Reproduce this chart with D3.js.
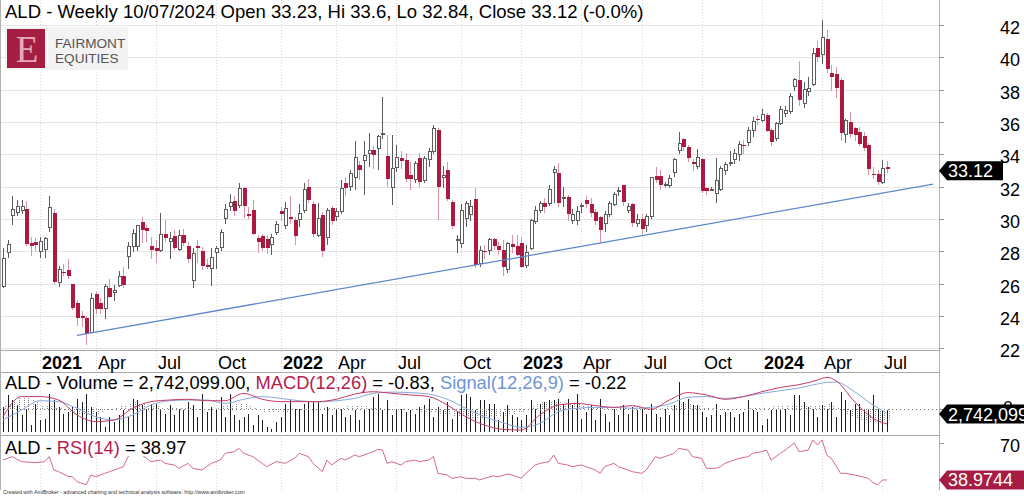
<!DOCTYPE html>
<html><head><meta charset="utf-8">
<script src="https://cdn.jsdelivr.net/npm/d3@7"></script>
<style>
html,body{margin:0;padding:0;background:#fff;}
svg{display:block;font-family:"Liberation Sans",Arial,sans-serif;}
</style></head><body>
<svg id="chart" width="1024" height="496"></svg>
<script>
// ---------------- DATA ----------------
const ticker = "ALD";
const lastDateLabel = "10/07/2024";
const changeLabel = "(-0.0%)";
const firstWeek = "2020-11-13"; // week ending date of the first weekly bar

const open = [25.8,27.9,30.2,30.4,30.5,30.6,28.5,28.55,27.96,28.1,
29.5,30.4,26.05,26.75,26.85,25.95,24.8,24.0,23.9,23.0,
25.35,24.8,24.45,25.75,25.45,25.9,26.45,27.7,28.27,28.3,
29.8,29.45,28.3,28.2,28.05,29.1,28.6,28.95,28.1,29.0,
28.3,26.2,28.3,28.05,27.15,26.93,27.9,28.25,30.0,30.8,
31.1,30.85,31.9,30.3,30.55,28.8,28.95,28.75,28.4,29.15,
30.5,29.6,30.1,29.95,29.95,30.55,31.95,30.95,28.95,30.25,
28.85,30.65,30.15,30.45,32.2,32.0,32.55,33.35,33.6,34.05,
34.25,34.35,35.2,33.9,31.95,33.2,33.8,33.65,32.7,32.45,
33.75,32.35,33.65,34.15,35.5,32.55,33.0,31.05,28.65,28.5,
30.05,30.25,31.25,27.25,28.05,28.05,28.75,28.35,28.1,26.85,
28.45,28.3,28.5,27.15,28.2,29.85,30.55,31.0,30.95,32.9,
32.85,31.3,31.35,29.9,29.9,30.8,31.15,30.95,30.45,30.1,
29.7,30.3,30.9,31.7,32.1,30.55,30.9,29.75,30.0,29.6,
30.15,32.65,32.65,32.1,32.1,32.85,34.25,34.95,34.45,33.55,
33.25,33.7,31.9,31.8,31.6,31.85,33.0,33.45,33.7,34.0,
34.6,34.75,35.45,36.2,36.1,36.45,35.5,34.95,35.9,36.55,
36.65,38.2,38.6,37.15,37.9,38.3,40.55,40.2,41.15,39.0,
38.95,38.6,35.25,36.0,35.6,35.35,35.15,34.6,32.8,32.8,
32.25,33.23];
const high = [28.2,28.7,31.4,31.2,31.2,31.1,28.9,28.8,28.9,28.9,
31.4,30.6,27.1,27.2,27.55,26.0,25.0,24.3,24.0,25.4,
25.5,25.1,25.95,26.3,25.9,26.8,27.0,28.6,29.35,29.65,
30.1,29.65,28.9,28.7,30.35,29.95,29.2,29.3,29.3,29.35,
28.6,28.2,28.7,28.25,27.5,28.2,28.35,29.4,30.9,31.55,
31.4,32.2,32.0,30.75,31.15,29.0,29.1,29.0,29.05,29.9,
30.75,31.05,31.45,30.15,30.9,32.2,32.5,31.1,31.0,30.45,
30.7,30.8,30.7,32.4,32.6,33.0,34.8,33.6,34.8,35.3,
34.5,35.2,37.55,35.2,35.2,34.6,34.2,34.1,33.5,33.6,
34.1,33.9,34.4,35.8,35.6,33.3,33.5,31.2,29.0,30.9,
31.1,31.2,31.9,28.3,28.4,28.8,28.85,28.6,28.7,28.6,
29.0,29.0,28.9,28.4,30.0,30.8,31.1,31.3,32.1,33.25,
33.45,32.0,31.5,30.6,30.8,31.0,31.45,31.3,30.6,30.2,
30.5,31.1,31.65,32.0,32.1,31.0,31.0,30.3,30.3,30.3,
32.6,33.2,33.0,32.3,32.7,33.8,35.4,35.0,34.6,33.7,
34.3,33.8,32.0,31.95,33.8,33.3,33.5,34.2,34.3,34.8,
34.9,35.7,36.3,36.45,36.8,36.55,35.6,36.0,37.0,37.0,
37.8,38.7,39.75,38.5,38.8,40.6,41.0,42.3,41.7,39.5,
39.4,38.7,36.2,36.6,35.7,35.7,35.4,34.7,33.2,33.0,
33.65,33.6];
const low = [25.75,27.6,29.6,30.2,30.3,28.3,27.7,28.0,27.6,27.6,
29.2,26.0,25.8,26.5,26.3,24.4,23.4,23.3,22.2,22.95,
24.1,24.1,23.8,25.1,24.9,25.8,25.7,26.9,27.95,28.0,
28.5,28.6,27.5,27.3,27.95,28.6,27.5,28.1,28.0,28.3,
27.3,25.7,27.3,26.85,26.9,25.85,26.9,28.0,29.7,30.5,
30.2,30.7,30.05,30.0,29.0,27.9,28.0,27.85,27.75,29.0,
29.9,29.4,29.7,28.4,29.5,30.4,31.0,28.9,28.9,27.65,
28.4,29.6,29.9,30.3,31.4,31.7,31.8,32.4,31.5,33.2,
33.1,33.05,34.95,32.0,30.85,32.9,33.1,32.3,31.8,32.2,
31.95,32.2,33.2,34.0,29.95,31.9,31.1,29.4,27.9,28.2,
29.5,29.9,26.95,27.0,27.5,27.8,28.1,27.8,26.5,26.65,
27.9,27.7,26.95,26.95,28.1,29.7,30.4,30.4,30.8,31.0,
30.75,30.75,29.9,29.7,29.6,30.4,30.7,30.1,29.6,28.5,
29.2,30.1,30.8,31.4,30.8,30.4,29.5,29.5,29.05,29.2,
30.0,32.2,31.8,31.95,31.9,32.6,34.0,34.2,33.5,32.95,
33.1,31.6,31.5,31.7,31.0,31.7,32.7,33.3,33.4,33.6,
34.0,34.5,35.1,35.8,36.0,35.4,34.5,34.8,35.8,36.3,
36.5,37.9,37.0,36.85,37.6,38.2,39.7,39.6,39.0,37.9,
37.5,34.8,34.7,35.0,34.8,34.5,34.2,32.7,32.5,32.1,
32.15,32.84];
const close = [27.55,28.4,30.6,30.8,30.8,28.45,28.3,28.4,28.6,28.8,
30.7,26.1,26.85,26.7,26.45,24.5,23.9,23.88,22.9,25.05,
24.45,24.45,25.85,25.2,25.6,26.45,25.9,28.3,29.1,29.6,
29.3,29.25,28.1,28.05,29.05,28.8,28.8,28.2,29.0,28.5,
27.5,27.85,28.2,27.1,27.05,27.6,28.15,29.15,30.6,31.05,
30.5,31.9,30.8,30.2,29.1,28.55,28.2,28.2,28.85,29.65,
30.3,30.65,30.0,28.95,30.35,31.8,31.2,29.1,30.0,28.05,
30.55,29.85,30.45,31.9,31.9,32.8,33.8,33.0,33.9,34.25,
33.95,35.1,35.3,32.45,33.15,33.8,33.6,32.45,32.5,33.45,
32.3,33.75,34.15,35.6,31.95,32.7,31.25,29.55,28.7,30.5,
30.95,30.75,27.15,28.05,27.95,28.75,28.3,28.1,27.05,28.5,
28.25,27.8,27.05,27.95,29.9,30.55,30.95,30.75,31.8,33.05,
31.0,31.35,30.3,30.25,30.45,30.85,30.95,30.35,29.9,29.3,
30.3,30.95,31.5,31.75,31.05,30.8,29.75,29.95,29.35,30.15,
32.55,32.4,32.1,32.15,32.5,33.7,34.65,34.45,33.75,33.4,
33.8,31.7,31.75,31.85,32.4,33.1,33.4,33.5,34.05,34.6,
34.5,35.5,36.05,36.1,36.45,35.45,34.75,35.9,36.75,36.7,
37.6,38.6,37.35,38.0,38.1,40.25,40.05,41.2,39.3,38.8,
38.1,35.3,36.1,35.25,35.2,34.65,34.4,33.1,32.75,32.3,
33.1,33.12];
// weekly volume in millions of shares
const volumeM = [3.13,4.58,3.96,3.33,2.08,2.92,0.83,3.54,1.46,1.67,
4.79,3.96,3.13,2.29,2.5,3.13,4.17,3.75,4.79,3.13,
2.5,1.88,0.63,1.88,1.25,2.08,2.71,1.88,4.17,3.96,
3.33,2.92,3.54,3.54,2.92,2.29,3.33,2.08,2.92,2.71,
3.75,3.33,1.88,4.79,2.5,3.13,2.92,4.38,1.88,4.79,
2.08,1.46,1.88,2.29,0.83,2.08,1.46,0.63,0.42,1.25,
1.88,3.54,3.96,2.92,2.92,3.54,3.75,3.75,3.75,2.29,
3.13,2.08,2.71,2.92,1.88,2.08,2.71,1.46,2.71,2.92,
4.38,4.79,2.71,3.96,2.08,2.92,2.92,2.5,2.71,2.29,
3.13,3.33,4.17,1.88,3.13,2.71,3.75,1.67,2.5,4.58,
4.79,4.38,2.71,3.96,3.96,3.54,3.54,1.46,
2.5,3.33,2.08,1.88,1.46,2.08,3.96,2.92,3.54,3.75,
3.96,3.96,4.17,3.54,4.17,3.33,4.79,1.67,2.5,3.33,
1.46,4.17,2.29,1.25,2.92,2.08,3.33,2.29,3.13,2.71,
2.92,2.29,3.54,2.29,1.88,2.92,2.08,3.33,6.25,3.75,
4.17,3.33,3.33,2.5,1.88,2.08,3.54,2.08,2.5,2.5,
1.88,2.29,2.5,3.96,2.71,2.5,0.83,1.67,2.71,2.71,
2.71,2.92,2.08,4.58,4.58,3.75,3.13,2.92,1.88,3.33,
2.92,3.75,1.88,5.0,3.96,2.71,3.54,3.54,2.92,2.92,
4.58,2.92,2.71,2.742099];
// MACD(12,26) and Signal(12,26,9) read at these bar numbers
const macdIdx = [0,4,8,12,16,20,24,28,32,36,40,44,48,52,56,60,64,68,72,76,80,84,88,92,96,100,104,108,112,116,120,124,128,132,136,140,144,148,152,156,160,164,168,172,176,178,180,184,188,191];
const macd = [-0.43,0.69,0.69,0.5,-0.33,-0.7,-0.61,0.04,0.41,0.5,0.54,0.46,0.46,0.87,0.54,0.41,0.41,0.41,0.54,0.83,0.96,0.87,0.78,0.69,0.22,-0.43,-0.89,-1.13,-1.17,-0.33,0.22,0.31,0.19,0.09,0.19,-0.02,0.5,0.91,0.78,0.54,0.69,0.96,1.2,1.35,1.61,1.76,1.57,0.41,-0.52,-0.83];
const signal = [-0.61,-0.06,0.46,0.41,0.04,-0.43,-0.61,-0.33,0.22,0.46,0.5,0.5,0.31,0.54,0.69,0.59,0.46,0.39,0.46,0.59,0.87,0.94,0.91,0.83,0.54,0.04,-0.43,-0.76,-1.02,-0.8,-0.15,0.04,0.09,0.09,0.04,0.09,0.28,0.65,0.69,0.59,0.69,0.87,1.02,1.17,1.39,1.48,1.5,0.96,0.22,-0.22];
// MACD histogram, one value per bar
const macdHist = [0.2,0.35,0.5,0.6,0.7,0.65,0.55,0.4,0.25,0.2,0.15,0.1,0.05,-0.1,-0.2,-0.3,-0.35,-0.35,-0.3,-0.3,-0.25,-0.2,-0.1,-0.05,0.05,0.15,0.25,0.35,0.4,0.35,0.3,0.25,0.2,0.15,0.1,0.05,0.05,0.05,0.05,0.05,0.05,0,-0.05,-0.05,-0.05,0,0.1,0.15,0.15,0.2,0.3,0.35,0.3,0.2,0.05,-0.1,-0.15,-0.2,-0.2,-0.2,-0.18,-0.15,-0.1,-0.08,-0.05,-0.03,0,0.02,0.02,0.05,0.05,0.08,0.08,0.12,0.18,0.22,0.25,0.22,0.18,0.12,0.08,0.03,0,-0.05,-0.07,-0.1,-0.1,-0.12,-0.13,-0.12,-0.14,-0.15,-0.15,-0.2,-0.25,-0.3,-0.33,-0.38,-0.42,-0.45,-0.47,-0.5,-0.5,-0.48,-0.46,-0.44,-0.4,-0.38,-0.37,-0.32,-0.25,-0.2,-0.15,0,0.2,0.35,0.45,0.45,0.42,0.4,0.37,0.33,0.3,0.28,0.27,0.22,0.18,0.13,0.1,0.06,0.03,0.01,0,0.05,0.1,0.13,0.15,0.05,-0.05,-0.1,-0.1,0,0.1,0.18,0.22,0.25,0.27,0.27,0.26,0.22,0.17,0.12,0.09,0.04,0,-0.03,-0.05,-0.04,-0.02,0,0,0.03,0.05,0.07,0.09,0.12,0.15,0.17,0.18,0.18,0.18,0.18,0.18,0.19,0.2,0.21,0.22,0.25,0.28,0.2,0.07,-0.1,-0.25,-0.4,-0.55,-0.6,-0.65,-0.7,-0.74,-0.7,-0.65,-0.61];
// RSI(14) read at these bar numbers
const rsiIdx = [0,2,4,7,9,10,11,12,13,14,15,16,17,18,19,20,22,23,25,26,27,28,29,30,31,32,34,35,37,38,40,41,43,44,45,47,48,50,51,52,54,56,57,59,61,63,64,66,67,69,70,71,73,74,76,77,79,80,81,82,83,84,86,87,89,90,92,93,94,96,97,99,100,102,103,104,106,107,109,110,112,113,115,116,118,119,120,122,123,125,126,128,129,130,132,133,135,136,138,139,141,142,143,145,146,148,149,151,152,154,155,156,158,159,161,162,164,165,166,168,169,171,172,174,175,176,177,178,179,181,182,184,185,187,188,189,190,191];
const rsi = [55.7,58.5,54.3,53.5,54.3,58.5,47.3,45.9,44,42,41.7,37.5,36.1,35,43.1,41.7,44.5,45.9,48.7,50.1,58.5,61,62,60,57.1,54.3,55.7,52.9,51.5,48.7,52.9,48.7,47.3,50.1,52.9,55.7,61.3,62.7,65.5,61.3,58.5,52.9,50.1,54.3,52.9,57.1,61.3,58.5,52.9,45.9,55.7,51.5,57.1,55.7,59.9,58.5,61.3,62.7,64.7,64.1,52.9,54.3,51.5,54.3,55.7,54.3,55.7,58.5,44.5,43.1,40.3,41.7,40.3,40.3,38.9,40.3,42.3,41.7,43.9,43.1,40.3,44.5,51.5,52.9,54.3,59.9,52.9,51.5,50.1,51.5,50.1,47.3,44.5,50.1,52.9,50.1,47.3,45.9,44.5,47.3,58.5,57.1,58.5,61.3,65.5,64.1,58.5,57.1,48.7,48.7,50.1,52.9,55.7,57.1,58.5,61.3,62.7,64.1,55.7,61.3,64.1,70,62.7,64.1,72.5,68.3,72.5,59.9,57.1,44.5,44.5,43.1,42.3,40.3,36.7,34.7,38.9,38.9744];
const priceTicks = [22,24,26,28,30,32,34,36,38,40,42];
const tickDates = ["2021-01-08","2021-04-02","2021-07-02","2021-10-01","2022-01-07","2022-04-01","2022-07-01","2022-10-07","2023-01-06","2023-04-07","2023-07-07","2023-10-06","2024-01-05","2024-04-05","2024-07-05"];
const tickLabels = ["2021","Apr","Jul","Oct","2022","Apr","Jul","Oct","2023","Apr","Jul","Oct","2024","Apr","Jul"];
const trendDates = ["2021-03-05","2024-09-20"];
const trendPrices = [22.8,32.15];

// ---------------- DRAW ----------------
const svg = d3.select("#chart");
const parse = d3.timeParse("%Y-%m-%d");
const d0 = parse(firstWeek);
const dates = close.map((_, i) => d3.timeDay.offset(d0, 7 * i));
const n = close.length;
const right = 939;

const x = d3.scaleTime().domain([dates[0], dates[n - 1]]).range([3, 886.9]);
const yP = d3.scaleLinear().domain([22, 42]).range([348.3, 25]);
const yV = d3.scaleLinear().domain([0, 6.25]).range([432, 382]);
const yM = d3.scaleLinear().domain([0, 1]).range([409, 391]);
const yR = d3.scaleLinear().domain([30, 70]).range([490.6, 443]);
const xi = i => Math.round(x(dates[i]));

const RED = "#ad1a40", RED_WICK = "#dd93a6", GREY = "#5c5c5c";
const FONT = 18, TITLE_FONT = 18.5;

svg.append("rect").attr("width", 1024).attr("height", 496).attr("fill", "#fff");

// horizontal price gridlines
svg.append("g").selectAll("line").data(priceTicks).join("line")
  .attr("x1", 0).attr("x2", right)
  .attr("y1", d => Math.round(yP(d)) + 0.5).attr("y2", d => Math.round(yP(d)) + 0.5)
  .attr("stroke", "#e4e4e4");

// vertical dotted gridlines
const tDates = tickDates.map(parse);
svg.append("g").selectAll("line").data(tDates).join("line")
  .attr("x1", d => Math.round(x(d)) + 0.5).attr("x2", d => Math.round(x(d)) + 0.5)
  .attr("y1", 0).attr("y2", 490)
  .attr("stroke", "#d4d4d4").attr("stroke-dasharray", "1,2");

// panel separators & borders
const seps = [350.5, 372.5, 435.5];
svg.append("g").selectAll("line").data(seps).join("line")
  .attr("x1", 0).attr("x2", right).attr("y1", d => d).attr("y2", d => d)
  .attr("stroke", "#a8a8a8");
svg.append("line").attr("x1", right + 0.5).attr("x2", right + 0.5).attr("y1", 0).attr("y2", 490).attr("stroke", "#b0b0b0");
svg.append("line").attr("x1", 0.5).attr("x2", 0.5).attr("y1", 0).attr("y2", 490).attr("stroke", "#b0b0b0");

// title
svg.append("text").attr("x", 5).attr("y", 18).attr("font-size", TITLE_FONT).attr("fill", "#000")
  .text(`${ticker} - Weekly ${lastDateLabel} Open ${open[n-1]}, Hi ${high[n-1]}, Lo ${low[n-1]}, Close ${close[n-1]} ${changeLabel}`);

// logo
const logo = svg.append("g");
logo.append("rect").attr("x", 5).attr("y", 27).attr("width", 123).attr("height", 43).attr("fill", "#f3f3f3");
logo.append("rect").attr("x", 7).attr("y", 29).attr("width", 38).attr("height", 39).attr("fill", "#a51d42");
logo.append("text").attr("x", 27).attr("y", 62).attr("text-anchor", "middle")
  .attr("font-family", "Liberation Serif, DejaVu Serif, serif").attr("font-size", 37)
  .attr("fill", "#e2aab8").text("E");
logo.append("text").attr("x", 55).attr("y", 48).attr("font-size", 13.6).attr("fill", "#555").text("FAIRMONT");
logo.append("text").attr("x", 55).attr("y", 62.5).attr("font-size", 13.6).attr("fill", "#555").text("EQUITIES");

// candles
const cg = svg.append("g").attr("shape-rendering", "crispEdges");
const idx = d3.range(n);
cg.selectAll("line.w").data(idx).join("line")
  .attr("x1", i => xi(i) + 0.5).attr("x2", i => xi(i) + 0.5)
  .attr("y1", i => yP(high[i])).attr("y2", i => yP(low[i]))
  .attr("stroke", i => close[i] < open[i] ? RED_WICK : GREY).attr("stroke-width", 1);
cg.selectAll("rect.b").data(idx).join("rect")
  .attr("x", i => xi(i) - 1)
  .attr("width", i => close[i] < open[i] ? 4 : 3)
  .attr("y", i => yP(Math.max(open[i], close[i])))
  .attr("height", i => Math.max(1, Math.abs(yP(open[i]) - yP(close[i]))))
  .attr("fill", i => close[i] < open[i] ? RED : "#fff")
  .attr("stroke", i => close[i] < open[i] ? "none" : GREY)
  .attr("stroke-width", 1);

// trend line
svg.append("line")
  .attr("x1", x(parse(trendDates[0]))).attr("y1", yP(trendPrices[0]))
  .attr("x2", x(parse(trendDates[1]))).attr("y2", yP(trendPrices[1]))
  .attr("stroke", "#5f88cc").attr("stroke-width", 1.3);

// date axis
svg.append("g").selectAll("text").data(tickLabels).join("text")
  .attr("x", (d, k) => Math.round(x(tDates[k])) + 2).attr("y", 369)
  .attr("font-size", FONT).attr("font-weight", d => /^\d{4}$/.test(d) ? "bold" : "normal")
  .attr("fill", "#000").text(d => d);

// volume bars
svg.append("g").attr("shape-rendering", "crispEdges").selectAll("line").data(idx).join("line")
  .attr("x1", i => xi(i) + 0.5).attr("x2", i => xi(i) + 0.5)
  .attr("y1", yV(0)).attr("y2", i => yV(volumeM[i]))
  .attr("stroke", "#1e1e1e");
// MACD histogram
svg.append("g").attr("shape-rendering", "crispEdges").selectAll("line").data(idx).join("line")
  .attr("x1", i => xi(i) + 2.5).attr("x2", i => xi(i) + 2.5)
  .attr("y1", yM(0)).attr("y2", i => yM(macdHist[i]))
  .attr("stroke", "#8a8a8a").attr("stroke-dasharray", "1,1");
// zero line
svg.append("line").attr("x1", 0).attr("x2", right).attr("y1", Math.round(yM(0)) + 0.5).attr("y2", Math.round(yM(0)) + 0.5)
  .attr("stroke", "#777").attr("stroke-dasharray", "1,3");
const lineM = d3.line().x(d => x(dates[d[0]])).y(d => yM(d[1])).curve(d3.curveMonotoneX);
svg.append("path").attr("d", lineM(macdIdx.map((k, j) => [k, signal[j]])))
  .attr("fill", "none").attr("stroke", "#86a8dc").attr("stroke-width", 1);
svg.append("path").attr("d", lineM(macdIdx.map((k, j) => [k, macd[j]])))
  .attr("fill", "none").attr("stroke", "#c73a62").attr("stroke-width", 1);

// volume title
const vt = svg.append("text").attr("x", 5).attr("y", 389).attr("font-size", 18.3);
vt.append("tspan").attr("fill", "#000").text(`${ticker} - Volume = ${d3.format(",.2f")(Math.round(volumeM[n-1] * 1e6))}, `);
vt.append("tspan").attr("fill", "#b3204d").text("MACD(12,26)");
vt.append("tspan").attr("fill", "#000").text(` = ${macd[macd.length-1].toFixed(2)}, `);
vt.append("tspan").attr("fill", "#6f94d4").text("Signal(12,26,9)");
vt.append("tspan").attr("fill", "#000").text(` = ${signal[signal.length-1].toFixed(2)}`);

// RSI
const lineR = d3.line().x(d => x(dates[d[0]])).y(d => yR(d[1]));
svg.append("path").attr("d", lineR(rsiIdx.map((k, j) => [k, rsi[j]])))
  .attr("fill", "none").attr("stroke", "#d46a86").attr("stroke-width", 1);
svg.append("rect").attr("x", 3).attr("y", 437).attr("width", 188).attr("height", 19).attr("fill", "#fff");
const rt = svg.append("text").attr("x", 5).attr("y", 454).attr("font-size", 18.3);
rt.append("tspan").attr("fill", "#000").text(`${ticker} - `);
rt.append("tspan").attr("fill", "#b3204d").text("RSI(14)");
rt.append("tspan").attr("fill", "#000").text(` = ${rsi[rsi.length-1].toFixed(2)}`);

// right axis ticks & labels
const ax = svg.append("g");
ax.selectAll("line").data(priceTicks).join("line")
  .attr("x1", right).attr("x2", right + 5)
  .attr("y1", d => Math.round(yP(d)) + 0.5).attr("y2", d => Math.round(yP(d)) + 0.5).attr("stroke", "#999");
ax.selectAll("text").data(priceTicks).join("text")
  .attr("x", 1000).attr("y", d => yP(d) + 9).attr("font-size", FONT).attr("fill", "#000").text(d => d);
svg.append("line").attr("x1", right).attr("x2", right + 5).attr("y1", Math.round(yM(0)) + 0.5).attr("y2", Math.round(yM(0)) + 0.5).attr("stroke", "#999");
svg.append("text").attr("x", 1003).attr("y", yM(0) + 5).attr("font-size", FONT).text("0");
svg.append("line").attr("x1", right).attr("x2", right + 5).attr("y1", Math.round(yR(70)) + 0.5).attr("y2", Math.round(yR(70)) + 0.5).attr("stroke", "#999");
svg.append("text").attr("x", 1000).attr("y", yR(70) + 9).attr("font-size", FONT).text("70");

function tag(yc, x2, fill, label) {
  svg.append("path")
    .attr("d", `M${right},${yc} L${right + 8},${yc - 9.5} L${x2},${yc - 9.5} L${x2},${yc + 9.5} L${right + 8},${yc + 9.5} Z`)
    .attr("fill", fill);
  svg.append("text").attr("x", right + 9).attr("y", yc + 6.5).attr("font-size", FONT).attr("fill", "#fff").text(label);
}
tag(yP(close[n-1]) + 2.3, 1003, "#000", close[n-1].toFixed(2));
tag(yV(volumeM[n-1]) + 4, 1030, "#000", d3.format(",")(Math.round(volumeM[n-1] * 1e6)));
tag(yR(rsi[rsi.length-1]), 1030, "#a51d42", rsi[rsi.length-1].toFixed(4));

// credits
svg.append("text").attr("x", 3).attr("y", 494).attr("font-size", 5.3).attr("fill", "#333")
  .text("Created with AmiBroker - advanced charting and technical analysis software. http://www.amibroker.com");
</script>
</body></html>
